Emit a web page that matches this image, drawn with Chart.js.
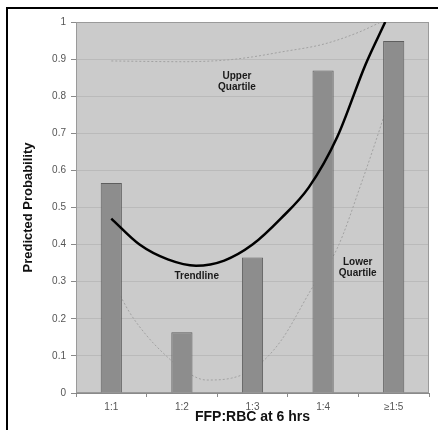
<!DOCTYPE html>
<html>
<head>
<meta charset="utf-8">
<title>Predicted Probability by FFP:RBC at 6 hrs</title>
<script src="https://cdn.jsdelivr.net/npm/chart.js@4.4.1/dist/chart.umd.min.js"></script>
<style>
    html, body { margin: 0; padding: 0; background: #fff; }
    .chart-wrap { position: relative; width: 438px; height: 430px; overflow: hidden; }
    .chart-frame {
        position: absolute; left: 6px; top: 7px; width: 500px; height: 500px;
        border-top: 2px solid #000; border-left: 2px solid #000; pointer-events: none;
    }
</style>
</head>
<body>
<div class="chart-wrap">
    <canvas id="probChart" width="438" height="430"></canvas>
    <div class="chart-frame"></div>
</div>
<script>

/*---------------------------------------------------
  Data
---------------------------------------------------*/
var ratioLabels = ["1:1", "1:2", "1:3", "1:4", "\u22651:5"];
var probValues = [0.566, 0.164, 0.365, 0.869, 0.949];
var yTickLabels = ["0", "0.1", "0.2", "0.3", "0.4", "0.5", "0.6", "0.7", "0.8", "0.9", "1"];

// curves: x is the category position (0 = 1:1 ... 4 = >=1:5)
var trendX = [0, 0.4, 0.8, 1.2, 1.6, 2.0, 2.4, 2.8, 3.2, 3.6, 3.88];
var trendY = [0.47, 0.40, 0.36, 0.343, 0.357, 0.40, 0.47, 0.555, 0.69, 0.885, 1.0];
var upperX = [0, 1.0, 1.6, 2.0, 2.4, 3.0, 3.5, 3.82];
var upperY = [0.895, 0.893, 0.897, 0.906, 0.919, 0.94, 0.972, 1.0];
var lowerX = [0, 0.25, 0.5, 0.75, 1.0, 1.35, 1.7, 2.05, 2.4, 2.85, 3.2, 3.55, 3.8, 4.0];
var lowerY = [0.31, 0.22, 0.155, 0.105, 0.065, 0.035, 0.04, 0.07, 0.14, 0.285, 0.39, 0.57, 0.71, 0.83];

var noteTexts = [["Upper", "Quartile"], ["Trendline"], ["Lower", "Quartile"]];
var noteX = [1.78, 1.21, 3.49];
var noteY = [0.838, 0.315, 0.337];

function toPoints(xs, ys) {
    var pts = [];
    for (var i = 0; i < xs.length; i++) {
        pts.push({ x: xs[i], y: ys[i] });
    }
    return pts;
}

/*---------------------------------------------------
  Plot area background + curve labels
---------------------------------------------------*/
var plotDecor = {
    id: 'plotDecor',
    beforeDraw: function (chart) {
        var a = chart.chartArea, ctx = chart.ctx;
        ctx.save();
        ctx.fillStyle = '#cbcbcb';
        ctx.fillRect(a.left, a.top, a.right - a.left, a.bottom - a.top);
        ctx.restore();
    },
    beforeDatasetsDraw: function (chart) {
        var a = chart.chartArea, ctx = chart.ctx;
        ctx.save();
        ctx.strokeStyle = '#9a9a9a';
        ctx.lineWidth = 1;
        ctx.strokeRect(a.left + 0.5, a.top + 0.5, a.right - a.left - 1, a.bottom - a.top - 1);
        ctx.restore();
    },
    afterDatasetsDraw: function (chart) {
        var ctx = chart.ctx;
        var xs = chart.scales.xl, ys = chart.scales.y;
        ctx.save();
        ctx.font = 'bold 10px "Liberation Sans", Arial, sans-serif';
        ctx.fillStyle = '#1a1a1a';
        ctx.textAlign = 'center';
        ctx.textBaseline = 'middle';
        for (var i = 0; i < noteTexts.length; i++) {
            var lines = noteTexts[i];
            var cx = xs.getPixelForValue(noteX[i]);
            var cy = ys.getPixelForValue(noteY[i]) - (lines.length - 1) * 5.5;
            for (var j = 0; j < lines.length; j++) {
                ctx.fillText(lines[j], cx, cy + j * 11);
            }
        }
        ctx.restore();
    }
};

/*---------------------------------------------------
  Chart
---------------------------------------------------*/
Chart.defaults.font.family = '"Liberation Sans", Arial, sans-serif';

var ctx = document.getElementById('probChart');
var probChart = new Chart(ctx, {
    type: 'bar',
    data: {
        labels: ratioLabels,
        datasets: [{
            type: 'line',
            label: 'Trendline',
            data: toPoints(trendX, trendY),
            xAxisID: 'xl',
            borderColor: '#000',
            borderWidth: 2.5,
            pointRadius: 0,
            cubicInterpolationMode: 'monotone',
            fill: false,
            order: 0
        }, {
            label: 'Predicted Probability',
            data: probValues,
            backgroundColor: '#8d8d8d',
            borderColor: '#5e5e5e',
            borderWidth: 1,
            grouped: false,
            categoryPercentage: 1,
            barPercentage: 0.3,
            order: 1
        }, {
            type: 'line',
            label: 'Upper Quartile',
            data: toPoints(upperX, upperY),
            xAxisID: 'xl',
            borderColor: '#a2a2a2',
            borderWidth: 1,
            borderDash: [2, 2],
            pointRadius: 0,
            cubicInterpolationMode: 'monotone',
            fill: false,
            order: 2
        }, {
            type: 'line',
            label: 'Lower Quartile',
            data: toPoints(lowerX, lowerY),
            xAxisID: 'xl',
            borderColor: '#a2a2a2',
            borderWidth: 1,
            borderDash: [2, 2],
            pointRadius: 0,
            cubicInterpolationMode: 'monotone',
            fill: false,
            order: 2
        }]
    },
    options: {
        responsive: false,
        animation: false,
        layout: {
            padding: { left: 0, top: 22, right: 9, bottom: 0 }
        },
        plugins: {
            legend: { display: false },
            tooltip: { enabled: false }
        },
        scales: {
            x: {
                offset: true,
                grid: {
                    offset: true,
                    drawOnChartArea: false,
                    drawTicks: true,
                    tickLength: 4,
                    tickColor: '#8a8a8a'
                },
                border: { display: true, color: '#8a8a8a' },
                ticks: {
                    color: '#555',
                    font: { size: 10 },
                    padding: 4
                },
                title: {
                    display: true,
                    text: 'FFP:RBC at 6 hrs',
                    color: '#111',
                    font: { size: 14, weight: 'bold' },
                    padding: { top: 0, bottom: 4 }
                },
                afterFit: function (scale) { scale.height = 37; }
            },
            xl: {
                type: 'linear',
                display: false,
                offset: false,
                grid: { offset: false },
                min: -0.5,
                max: 4.5
            },
            y: {
                min: 0,
                max: 1,
                ticks: {
                    stepSize: 0.1,
                    color: '#555',
                    font: { size: 10 },
                    padding: 5,
                    callback: function (value, index) { return yTickLabels[index]; }
                },
                grid: {
                    color: '#bababa',
                    tickLength: 5,
                    tickColor: '#8a8a8a'
                },
                border: { display: true, color: '#808080' },
                title: {
                    display: true,
                    text: 'Predicted Probability',
                    color: '#111',
                    font: { size: 13, weight: 'bold' },
                    padding: { top: 21, bottom: 0 }
                },
                afterFit: function (scale) { scale.width = 76; }
            }
        }
    },
    plugins: [plotDecor]
});

</script>
</body>
</html>
